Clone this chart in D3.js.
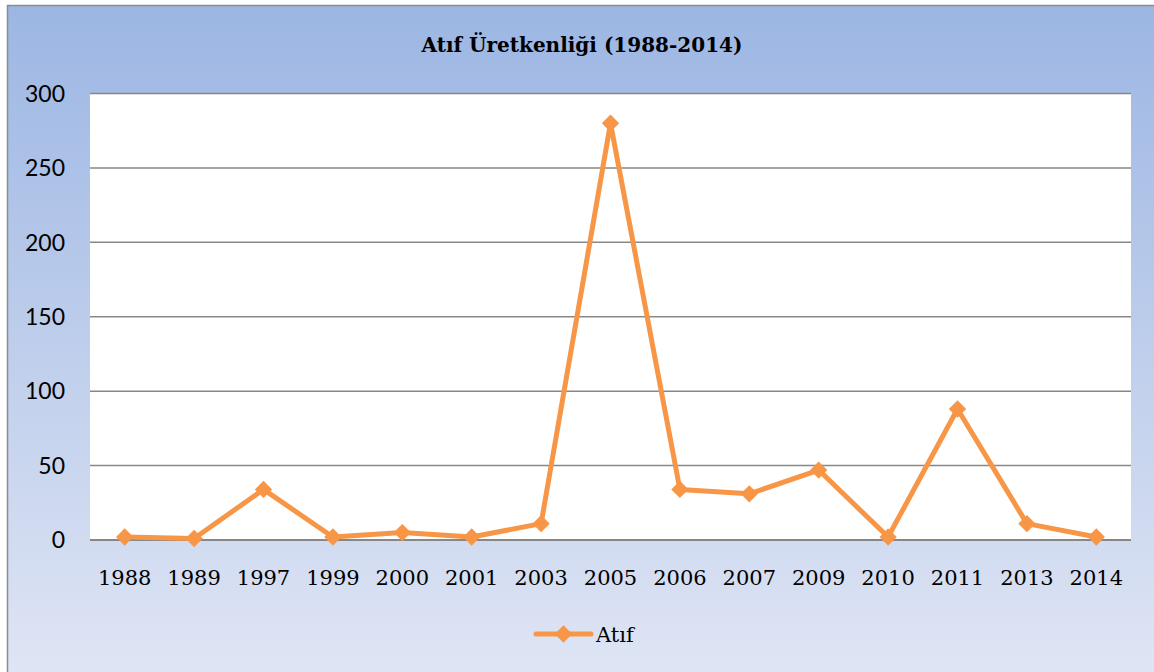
<!DOCTYPE html>
<meta charset="utf-8">
<script src="https://d3js.org/d3.v7.js"></script>
<style>
  body { margin: 0; background: #fff; }
</style>
<svg id="chart" width="1154" height="672"></svg>
<script>

// Data
const years = ["1988","1989","1997","1999","2000","2001","2003","2005","2006","2007","2009","2010","2011","2013","2014"];
const atif = [2, 1, 34, 2, 5, 2, 11, 280, 34, 31, 47, 2, 88, 11, 2];
const yTicks = [0, 50, 100, 150, 200, 250, 300];

const svg = d3.select("#chart");
const W = +svg.attr("width"), H = +svg.attr("height");

// background gradient
const defs = svg.append("defs");
const grad = defs.append("linearGradient").attr("id", "bg")
  .attr("x1", 0).attr("y1", 0).attr("x2", 0).attr("y2", 1);
grad.append("stop").attr("offset", "0%").attr("stop-color", "#9cb6e3");
grad.append("stop").attr("offset", "100%").attr("stop-color", "#dfe5f4");

svg.append("rect")
  .attr("x", 7.5).attr("y", 5.5)
  .attr("width", W).attr("height", H)
  .attr("fill", "url(#bg)")
  .attr("stroke", "#8c8c8c").attr("stroke-width", 1.5);

const plot = { left: 90, right: 1131, top: 93.5, bottom: 540 };

// white plot area
svg.append("rect")
  .attr("x", plot.left).attr("y", plot.top)
  .attr("width", plot.right - plot.left).attr("height", plot.bottom - plot.top)
  .attr("fill", "#fff");

const x = d3.scaleBand().domain(years).range([plot.left, plot.right]);
const y = d3.scaleLinear().domain([0, 300]).range([plot.bottom, plot.top]);

// gridlines
svg.append("g")
  .selectAll("line")
  .data(yTicks)
  .join("line")
    .attr("x1", plot.left).attr("x2", plot.right)
    .attr("y1", d => y(d)).attr("y2", d => y(d))
    .attr("stroke", "#878787")
    .attr("stroke-width", d => d === 0 ? 2.2 : 1.5);

// y labels
svg.append("g")
  .selectAll("text")
  .data(yTicks)
  .join("text")
    .attr("x", 65)
    .attr("y", d => y(d))
    .attr("dy", "0.36em")
    .attr("text-anchor", "end")
    .style("font-family", "Lato, 'Open Sans', sans-serif")
    .style("font-size", "23px")
    .attr("fill", "#000")
    .text(d => d);

// x labels
svg.append("g")
  .selectAll("text")
  .data(years)
  .join("text")
    .attr("x", d => x(d) + x.bandwidth() / 2)
    .attr("y", 577)
    .attr("dy", "0.36em")
    .attr("text-anchor", "middle")
    .style("font-family", "'DejaVu Serif', 'Liberation Serif', serif")
    .style("font-size", "21px")
    .attr("fill", "#000")
    .text(d => d);

// line
const line = d3.line()
  .x((d, i) => x(years[i]) + x.bandwidth() / 2)
  .y(d => y(d));

svg.append("path")
  .datum(atif)
  .attr("d", line)
  .attr("fill", "none")
  .attr("stroke", "#f79646")
  .attr("stroke-width", 5)
  .attr("stroke-linejoin", "round");

// diamond markers
svg.append("g")
  .selectAll("path")
  .data(atif)
  .join("path")
    .attr("transform", (d, i) => `translate(${x(years[i]) + x.bandwidth() / 2},${y(d)}) rotate(45)`)
    .attr("d", d3.symbol().type(d3.symbolSquare).size(150))
    .attr("fill", "#f79646");

// title
svg.append("text")
  .attr("x", 582)
  .attr("y", 45)
  .attr("dy", "0.36em")
  .attr("text-anchor", "middle")
  .style("font-family", "'DejaVu Serif', 'Liberation Serif', serif")
  .style("font-size", "20px")
  .style("font-weight", "bold")
  .attr("fill", "#000")
  .text("Atıf Üretkenliği (1988-2014)");

// legend
const lg = svg.append("g").attr("transform", "translate(536,634)");
lg.append("line")
  .attr("x1", 0).attr("x2", 55)
  .attr("stroke", "#f79646").attr("stroke-width", 5)
  .attr("stroke-linecap", "round");
lg.append("path")
  .attr("transform", "translate(27.5,0) rotate(45)")
  .attr("d", d3.symbol().type(d3.symbolSquare).size(150))
  .attr("fill", "#f79646");
lg.append("text")
  .attr("x", 60).attr("y", 0).attr("dy", "0.36em")
  .style("font-family", "'DejaVu Serif', 'Liberation Serif', serif")
  .style("font-size", "21px")
  .attr("fill", "#000")
  .text("Atıf");

</script>
